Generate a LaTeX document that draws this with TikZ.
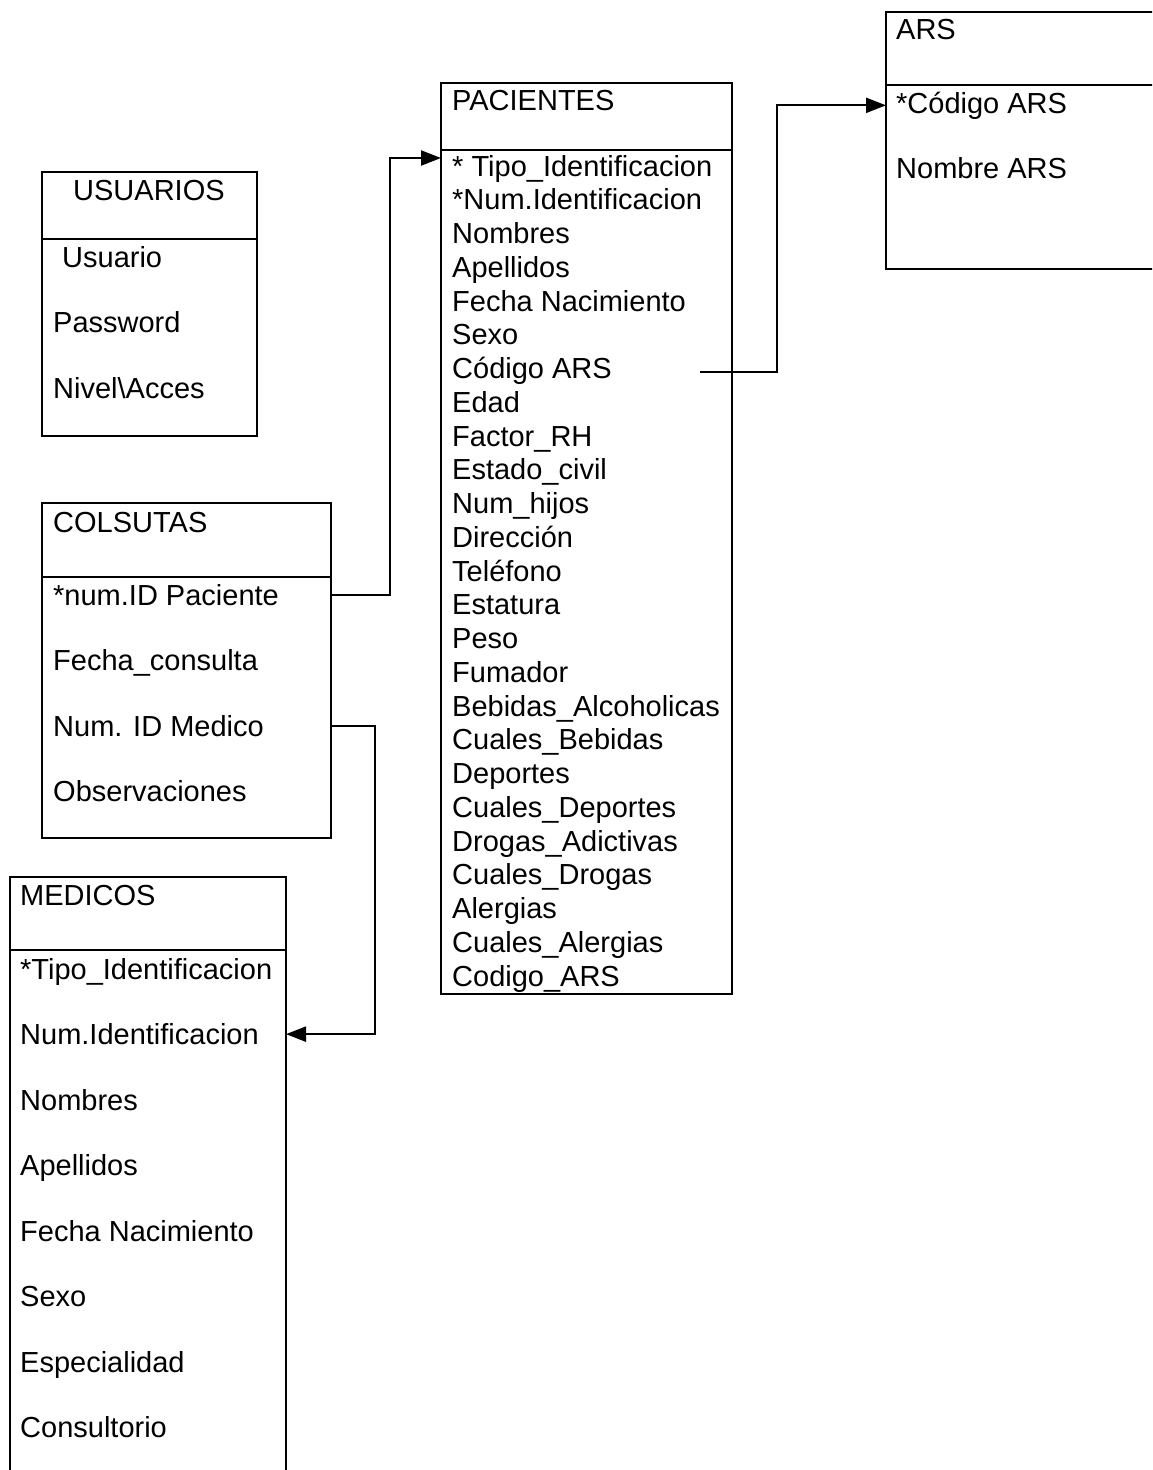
\documentclass[tikz,border=0pt]{standalone}
\usepackage{fontspec}
\setmainfont{Liberation Sans}
\usetikzlibrary{arrows.meta}
\begin{document}
\begin{tikzpicture}[x=1pt,y=-1pt,
  tbl/.style={draw, line width=2.6pt, rectangle, inner sep=0pt, outer sep=0pt, anchor=north west},
  sep/.style={line width=2.6pt},
  fld/.style={anchor=base west, inner sep=0pt, font=\fontsize{29}{34}\selectfont},
  conn/.style={line width=2.2pt},
  arr/.style={conn, -{Triangle[length=20pt,width=15pt]}}]
\clip (0,0) rectangle (1152,1470);
\fill[white] (0,0) rectangle (1152,1470);

% USUARIOS table
\node[tbl, minimum width=215, minimum height=264] (usuarios) at (42,172) {};
\draw[sep] (42,239) -- (257,239);
\node[fld] (uT) at (73,200) {USUARIOS};
\node[fld] (u1) at (62,267) {Usuario};
\node[fld] (u2) at (53,332.5) {Password};
\node[fld] (u3) at (53,398) {Nivel\textbackslash Acces};

% COLSUTAS table
\node[tbl, minimum width=289, minimum height=335] (colsutas) at (42,503) {};
\draw[sep] (42,577) -- (331,577);
\node[fld] (cT) at (53,532) {COLSUTAS};
\node[fld] (c1) at (53,605) {*num.ID Paciente};
\node[fld] (c2) at (53,670.5) {Fecha\_consulta};
\node[fld] (c3) at (53,736) {Num. ID Medico};
\node[fld] (c4) at (53,801.5) {Observaciones};

% MEDICOS table (runs past the lower edge)
\node[tbl, minimum width=276, minimum height=700] (medicos) at (10,877) {};
\draw[sep] (10,950) -- (286,950);
\node[fld] (mT) at (20,905) {MEDICOS};
\foreach \t [count=\i from 0] in {*Tipo\_Identificacion, Num.Identificacion,
    Nombres, Apellidos, Fecha Nacimiento, Sexo, Especialidad, Consultorio}
  \node[fld] (m\i) at (20,979+65.5*\i) {\t};

% PACIENTES table
\node[tbl, minimum width=291, minimum height=911] (pacientes) at (441,83) {};
\draw[sep] (441,150) -- (732,150);
\node[fld] (pT) at (452,110) {PACIENTES};
\foreach \t [count=\i from 0] in {* Tipo\_Identificacion, *Num.Identificacion,
    Nombres, Apellidos, Fecha Nacimiento, Sexo, Código ARS, Edad, Factor\_RH,
    Estado\_civil, Num\_hijos, Dirección, Teléfono, Estatura, Peso, Fumador,
    Bebidas\_Alcoholicas, Cuales\_Bebidas, Deportes, Cuales\_Deportes,
    Drogas\_Adictivas, Cuales\_Drogas, Alergias, Cuales\_Alergias, Codigo\_ARS}
  \node[fld] (p\i) at (452,176+33.75*\i) {\t};

% ARS table (runs past the right edge)
\node[tbl, minimum width=320, minimum height=257] (ars) at (886,12) {};
\draw[sep] (886,85) -- (1200,85);
\node[fld] (aT) at (896,39) {ARS};
\node[fld] (a1) at (896,113) {*Código ARS};
\node[fld] (a2) at (896,178.5) {Nombre ARS};

% relations
\coordinate (pacIn) at (441,158);
\coordinate (arsOut) at (700,372);
\draw[arr] (colsutas.east |- c1) -- ++(59,0) |- (pacIn);
\draw[arr] (colsutas.east |- c3) -- ++(44,0) |- (medicos.east |- m1);
\draw[arr] (arsOut) -- (777,372) |- (ars.west |- a1);
\end{tikzpicture}
\end{document}
